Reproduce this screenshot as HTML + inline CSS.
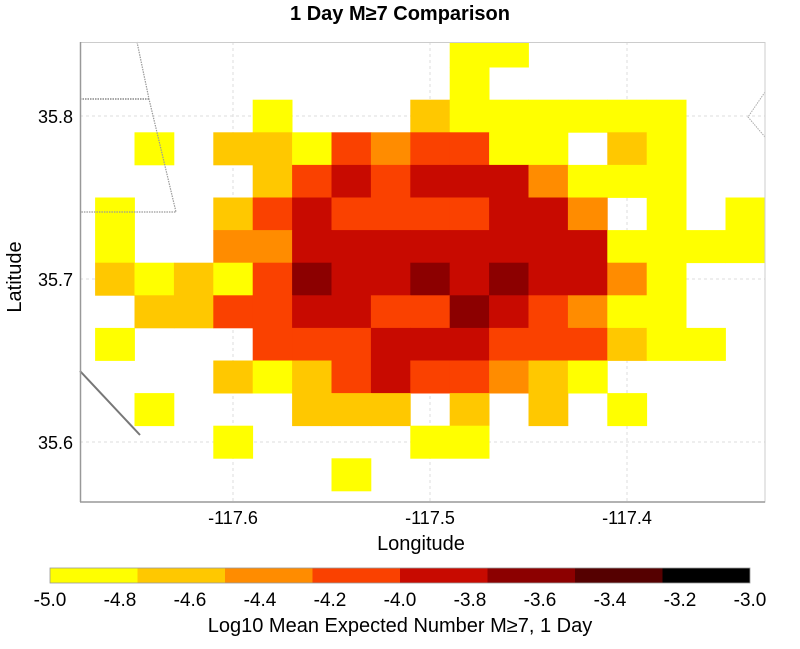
<!DOCTYPE html>
<html><head><meta charset="utf-8"><style>
html,body{margin:0;padding:0;background:#fff;}
svg{display:block;font-family:"Liberation Sans",sans-serif;}
</style></head><body>
<svg id="chart" width="800" height="649" viewBox="0 0 800 649">
<text x="400" y="20" text-anchor="middle" font-size="20" font-weight="bold">1 Day M≥7 Comparison</text>
<g id="grid"></g>
<g id="cells"></g>
<g fill="none">
<polyline points="137,42 149,99 176,212 80,212" stroke="#999" stroke-width="1.2" stroke-dasharray="1.5,1"/>
<polyline points="80,99 149,99" stroke="#888" stroke-width="1.5" stroke-dasharray="1.5,1"/>
<polyline points="765,92 748,117 765,137" stroke="#aaa" stroke-width="1" stroke-dasharray="1.5,1"/>
<line x1="80" y1="371" x2="140" y2="435" stroke="#777" stroke-width="2"/>
</g>
<rect x="80.5" y="42.5" width="684.5" height="459.5" fill="none" stroke="#ccc"/>
<line x1="80.5" y1="42" x2="80.5" y2="502" stroke="#999" stroke-width="1.5"/>
<line x1="80" y1="502" x2="765" y2="502" stroke="#999" stroke-width="1.5"/>
<g id="xticks"></g>
<g id="yticks"></g>
<text x="421" y="550" text-anchor="middle" font-size="20">Longitude</text>
<text transform="translate(21,277) rotate(-90)" text-anchor="middle" font-size="20">Latitude</text>
<g id="cbar"></g>
<text x="400" y="632" text-anchor="middle" font-size="20">Log10 Mean Expected Number M≥7, 1 Day</text>
</svg>
<script>
const _ = null;
const lonCenters = [-117.66,-117.64,-117.62,-117.60,-117.58,-117.56,-117.54,-117.52,-117.50,-117.48,-117.46,-117.44,-117.42,-117.40,-117.38,-117.36,-117.34];
const latCenters = [35.84,35.82,35.80,35.78,35.76,35.74,35.72,35.70,35.68,35.66,35.64,35.62,35.60,35.58];
const values = [
[_,_,_,_,_,_,_,_,_,-4.9,-4.9,_,_,_,_,_,_],
[_,_,_,_,_,_,_,_,_,-4.9,_,_,_,_,_,_,_],
[_,_,_,_,-4.9,_,_,_,-4.6,-4.9,-4.9,-4.9,-4.9,-4.9,-4.9,_,_],
[_,-4.9,_,-4.6,-4.6,-4.9,-4.1,-4.4,-4.1,-4.1,-4.9,-4.9,_,-4.6,-4.9,_,_],
[_,_,_,_,-4.6,-4.1,-3.9,-4.1,-3.9,-3.9,-3.9,-4.4,-4.9,-4.9,-4.9,_,_],
[-4.9,_,_,-4.6,-4.1,-3.9,-4.1,-4.1,-4.1,-4.1,-3.9,-3.9,-4.4,_,-4.9,_,-4.9],
[-4.9,_,_,-4.4,-4.4,-3.9,-3.9,-3.9,-3.9,-3.9,-3.9,-3.9,-3.9,-4.9,-4.9,-4.9,-4.9],
[-4.6,-4.9,-4.6,-4.9,-4.1,-3.6,-3.9,-3.9,-3.6,-3.9,-3.6,-3.9,-3.9,-4.4,-4.9,_,_],
[_,-4.6,-4.6,-4.1,-4.1,-3.9,-3.9,-4.1,-4.1,-3.6,-3.9,-4.1,-4.4,-4.9,-4.9,_,_],
[-4.9,_,_,_,-4.1,-4.1,-4.1,-3.9,-3.9,-3.9,-4.1,-4.1,-4.1,-4.6,-4.9,-4.9,_],
[_,_,_,-4.6,-4.9,-4.6,-4.1,-3.9,-4.1,-4.1,-4.4,-4.6,-4.9,_,_,_,_],
[_,-4.9,_,_,_,-4.6,-4.6,-4.6,_,-4.6,_,-4.6,_,-4.9,_,_,_],
[_,_,_,-4.9,_,_,_,_,-4.9,-4.9,_,_,_,_,_,_,_],
[_,_,_,_,_,_,-4.9,_,_,_,_,_,_,_,_,_,_]
];
const xTicks = [-117.6,-117.5,-117.4];
const xTickLabels = ["-117.6","-117.5","-117.4"];
const yTicks = [35.8,35.7,35.6];
const yTickLabels = ["35.8","35.7","35.6"];
const cbarBounds = [-5.0,-4.75,-4.5,-4.25,-4.0,-3.75,-3.5,-3.25,-3.0];
const cbarColors = ["#ffff00","#ffc800","#ff8c00","#fa4100","#c80a00","#8c0000","#550000","#000000"];
const cbarTicks = [-5.0,-4.8,-4.6,-4.4,-4.2,-4.0,-3.8,-3.6,-3.4,-3.2,-3.0];
const cbarTickLabels = ["-5.0","-4.8","-4.6","-4.4","-4.2","-4.0","-3.8","-3.6","-3.4","-3.2","-3.0"];

const NS = "http://www.w3.org/2000/svg";
const xS = lon => 233 + (lon + 117.6) * 1970;
const yS = lat => 279 - (lat - 35.7) * 1630;
const cS = v => 50 + (v + 5) / 2 * 700;
function colorFor(v){
  for (let i = 0; i < cbarColors.length; i++) if (v < cbarBounds[i+1]) return cbarColors[i];
  return cbarColors[cbarColors.length-1];
}
function mk(tag, attrs, parent){
  const e = document.createElementNS(NS, tag);
  for (const k in attrs) e.setAttribute(k, attrs[k]);
  parent.appendChild(e); return e;
}
const grid = document.getElementById('grid');
xTicks.forEach(t => {
  const l = mk('line', {x1:xS(t), x2:xS(t), y1:42, y2:502, stroke:'#ddd', 'stroke-dasharray':'3,3'}, grid);
  
  
});
yTicks.forEach(t => {
  const l = mk('line', {x1:80, x2:765, y1:yS(t), y2:yS(t), stroke:'#ddd', 'stroke-dasharray':'3,3'}, grid);
  
  
});
const cells = document.getElementById('cells');
const clipTop = 42;
values.forEach((row, r) => row.forEach((v, c) => {
  if (v === null) return;
  const x0 = xS(lonCenters[c] - 0.01), x1 = xS(lonCenters[c] + 0.01);
  let y0 = yS(latCenters[r] + 0.01); const y1 = yS(latCenters[r] - 0.01);
  y0 = Math.max(y0, clipTop);
  const rc = mk('rect', {x:x0, y:y0, width:x1-x0+0.4, height:y1-y0+0.4, fill:colorFor(v)}, cells);
  
  
}));
const xt = document.getElementById('xticks');
xTicks.forEach((t, i) => {
  const e = mk('text', {x:xS(t), y:524, 'text-anchor':'middle', 'font-size':18}, xt);
  e.textContent = xTickLabels[i];
  
  
});
const yt = document.getElementById('yticks');
yTicks.forEach((t, i) => {
  const e = mk('text', {x:73, y:yS(t)+7, 'text-anchor':'end', 'font-size':18}, yt);
  e.textContent = yTickLabels[i];
  
  
});
const cb = document.getElementById('cbar');
cbarColors.forEach((col, i) => {
  const x0 = cS(cbarBounds[i]), x1 = cS(cbarBounds[i+1]);
  const r = mk('rect', {x:x0, y:568, width:x1-x0, height:15, fill:col}, cb);
  
  
});
mk('rect', {x:50, y:568, width:700, height:15, fill:'none', stroke:'#999', 'stroke-width':0.8}, cb);
cbarTicks.forEach((t, i) => {
  const e = mk('text', {x:cS(t), y:606, 'text-anchor':'middle', 'font-size':19}, cb);
  e.textContent = cbarTickLabels[i];
  
  
});
</script>
</body></html>
